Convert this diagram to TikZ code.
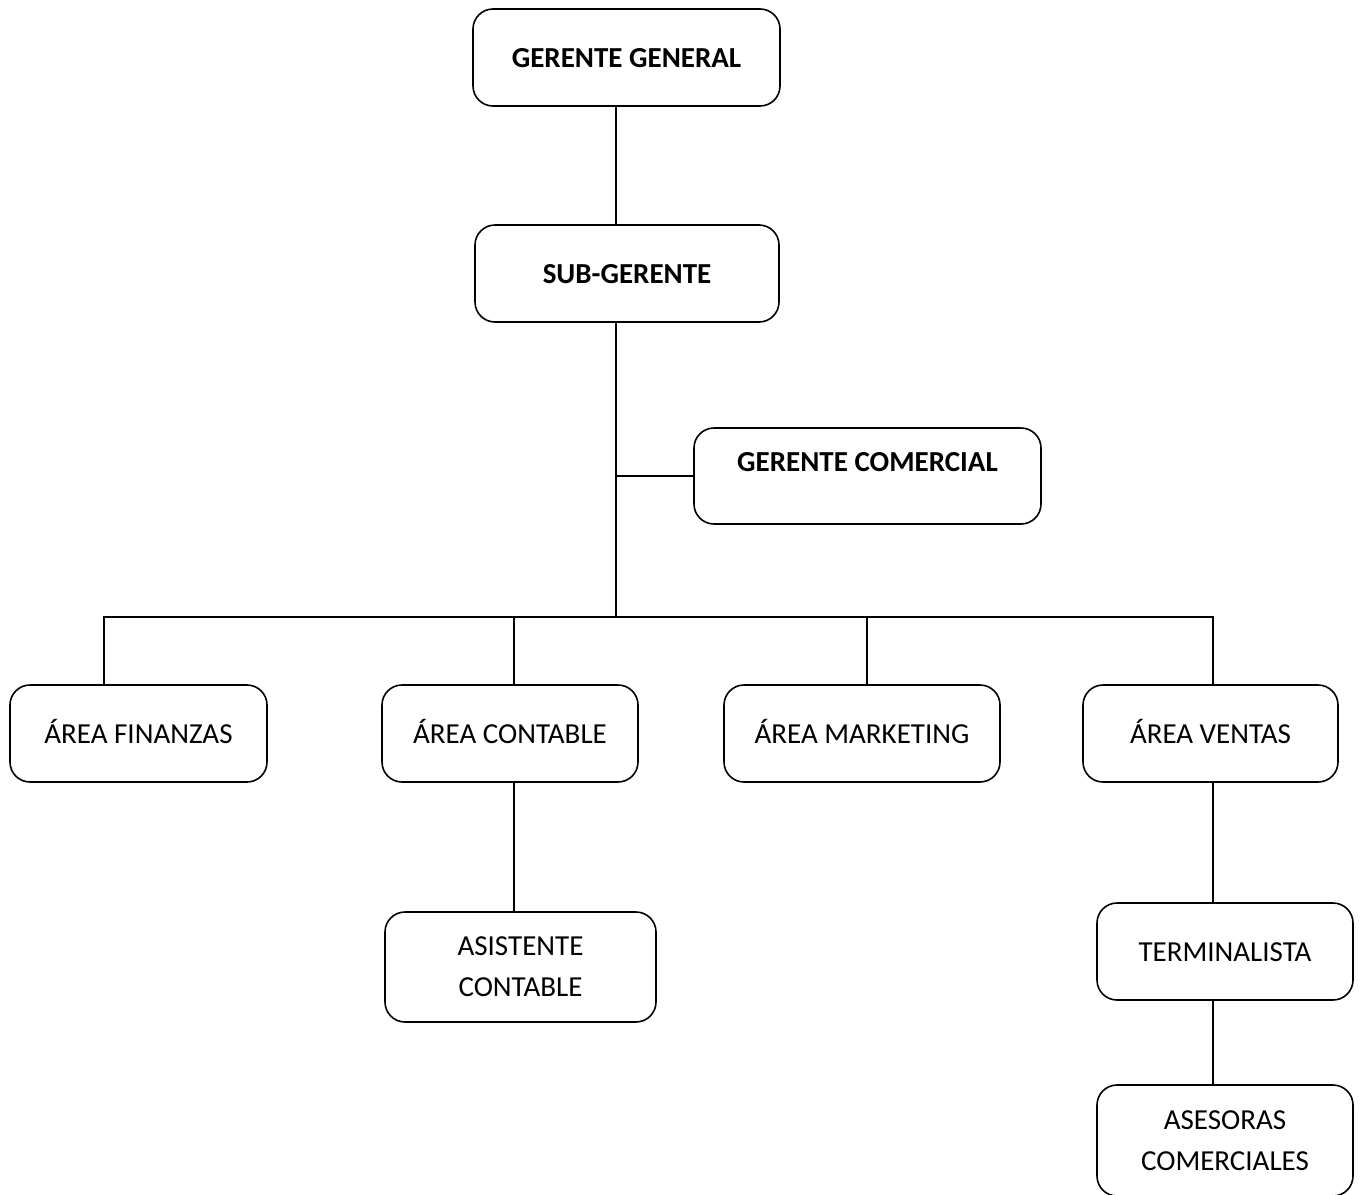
\documentclass[tikz,border=0pt]{standalone}
\usepackage{fontspec}
\setmainfont{Carlito}
\tikzset{
  box/.style={draw, line width=1.6pt, rounded corners=20pt, inner sep=0pt,
    font=\fontsize{29}{41}\selectfont, text height=19pt, text depth=0pt, align=center},
  boldbox/.style={box, font=\fontsize{29}{41}\selectfont\bfseries},
  twoline/.style={box, text height=, text depth=},
  conn/.style={line width=1.6pt}
}
\begin{document}
\begin{tikzpicture}[x=1pt,y=-1pt]
\useasboundingbox (0,0) rectangle (1362,1194);
\clip (0,0) rectangle (1362,1194);
\node[boldbox, minimum width=307pt, minimum height=97pt] (GG) at (626.5,57.5) {GERENTE GENERAL};
\node[boldbox, minimum width=304pt, minimum height=97pt] (SG) at (627,273.5) {SUB-GERENTE};
\node[boldbox, minimum width=347pt, minimum height=96pt, text depth=28pt] (GC) at (867.5,476) {GERENTE COMERCIAL};
\node[box, minimum width=257pt, minimum height=97pt] (AF) at (138.5,733.5) {ÁREA FINANZAS};
\node[box, minimum width=256pt, minimum height=97pt] (AC) at (510,733.5) {ÁREA CONTABLE};
\node[box, minimum width=276pt, minimum height=97pt] (AM) at (862,733.5) {ÁREA MARKETING};
\node[box, minimum width=255pt, minimum height=97pt] (AV) at (1210.5,733.5) {ÁREA VENTAS};
\node[twoline, minimum width=271pt, minimum height=110pt] (ASC) at (520.5,967) {ASISTENTE\\CONTABLE};
\node[box, minimum width=256pt, minimum height=97pt] (TER) at (1225,951.5) {TERMINALISTA};
\node[twoline, minimum width=256pt, minimum height=111pt] (ASE) at (1225,1140.5) {ASESORAS\\COMERCIALES};
\coordinate (sp) at (616,617);
\coordinate (b1) at (104,617);
\coordinate (b2) at (514,617);
\coordinate (b3) at (867,617);
\coordinate (b4) at (1213,617);
\draw[conn] (GG.south -| sp) -- (SG.north -| sp);
\draw[conn] (SG.south -| sp) -- (sp);
\draw[conn] (sp |- GC.west) -- (GC.west);
\draw[conn] (b1 |- AF.north) -- (b1) -- (b4) -- (b4 |- AV.north);
\draw[conn] (b2) -- (b2 |- AC.north);
\draw[conn] (b3) -- (b3 |- AM.north);
\draw[conn] (AC.south -| b2) -- (ASC.north -| b2);
\draw[conn] (AV.south -| b4) -- (TER.north -| b4);
\draw[conn] (TER.south -| b4) -- (ASE.north -| b4);
\end{tikzpicture}
\end{document}
